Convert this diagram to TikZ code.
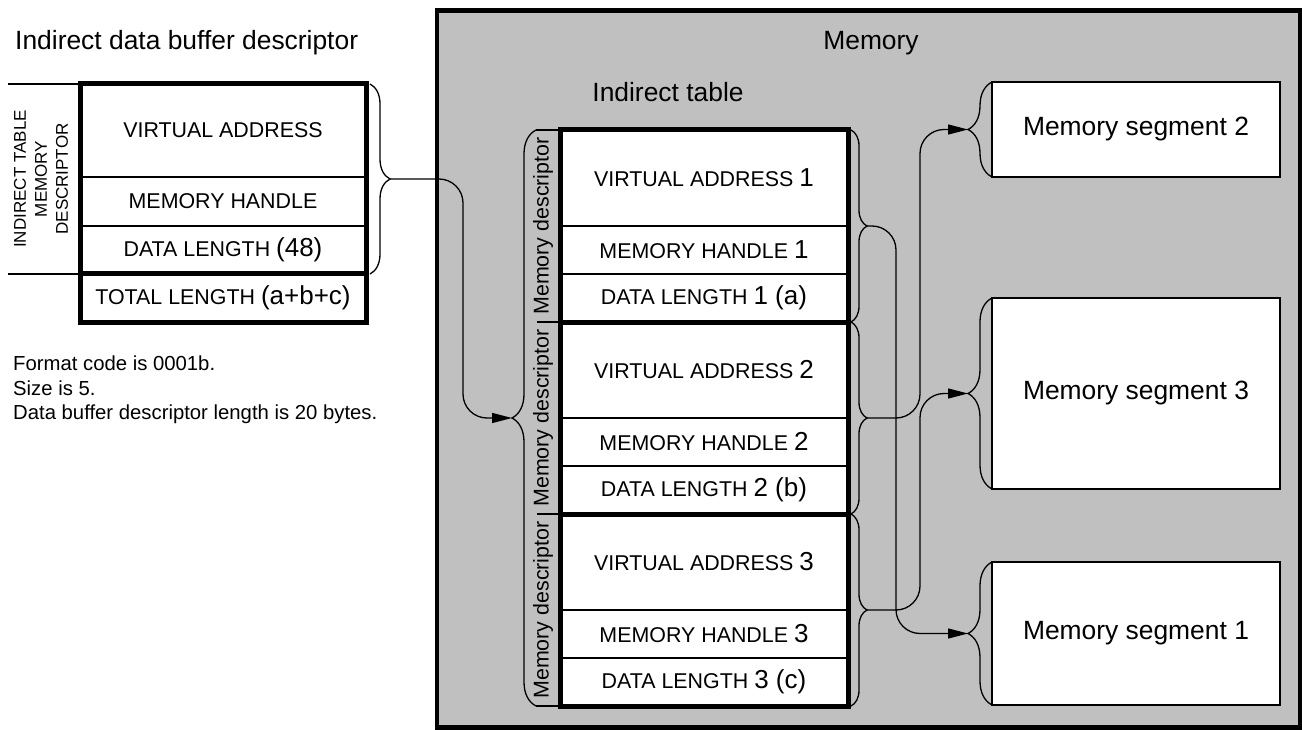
\documentclass[tikz,border=0pt]{standalone}
\usepackage{fontspec}
\setmainfont{Liberation Sans}
\usetikzlibrary{arrows.meta,positioning,calc,decorations.pathreplacing}

\definecolor{memgray}{RGB}{192,192,192}

\newcommand{\titlefont}{\fontsize{26.4}{31}\selectfont}
\newcommand{\capsfont}{\fontsize{21.4}{25}\selectfont}
\newcommand{\numfont}{\fontsize{26}{30}\selectfont}
\newcommand{\sidefont}{\fontsize{17}{21}\selectfont}
\newcommand{\notefont}{\fontsize{20.3}{24.5}\selectfont}

\begin{document}
\begin{tikzpicture}[x=1pt, y=-1pt,
  cell/.style={draw=black, line width=2pt, fill=white, inner sep=0pt, outer sep=0pt, font=\capsfont},
  lcell/.style={cell, minimum width=286pt, minimum height=#1},
  tcell/.style={cell, minimum width=288pt, minimum height=#1},
  segbox/.style={draw=black, line width=2.5pt, fill=white, minimum width=288pt, minimum height=#1,
    inner sep=0pt, outer sep=0pt, font=\titlefont},
  curly/.style={line width=1.3pt, decorate, decoration={brace, amplitude=#1}},
  link/.style={line width=1.3pt, rounded corners=24pt, -{Triangle[length=20pt,width=10pt]}},
  frame/.style={line width=5pt}
]

  \useasboundingbox (0,0) rectangle (1302,730);

  %% memory area
  \draw[line width=4.5pt, fill=memgray] (437,10.5) rectangle (1300,727.5);
  \node[font=\titlefont] (MemTitle) at (871,43) {Memory};
  \node[font=\titlefont] (TabTitle) at (668,92) {Indirect table};

  %% indirect data buffer descriptor
  \node[font=\titlefont, anchor=west, inner sep=0pt] (BufTitle) at (15,43) {Indirect data buffer descriptor};

  \coordinate (LD) at (80,84);

  \node[lcell=93pt, anchor=north west] (LVA) at (LD) {VIRTUAL ADDRESS};
  \node[lcell=49pt, below=0pt of LVA] (LMH) {MEMORY HANDLE};
  \node[lcell=48pt, below=0pt of LMH] (LDL) {DATA LENGTH {\numfont (48)}};
  \node[lcell=48pt, below=0pt of LDL] (LTL) {TOTAL LENGTH {\numfont (a+b+c)}};

  \draw[frame] (LVA.north west) rectangle (LTL.south east);
  \draw[frame] (LTL.north west) -- (LTL.north east);

  \draw[line width=2pt] (LVA.north west) -- ++(-72,0);
  \draw[line width=2pt] (LTL.north west) -- ++(-72,0);
  \node[font=\sidefont, rotate=90, align=center] (SideLbl) at (41,179) {INDIRECT TABLE\\MEMORY\\DESCRIPTOR};

  \draw[curly=20pt] ($(LVA.north east)+(4,0)$) -- ($(LDL.south east)+(4,0)$);
  \coordinate (LDtip) at ($(LVA.north east)!0.5!(LDL.south east)+(24,0)$);

  \node[font=\notefont, align=left, anchor=west, inner sep=0pt] (Notes) at (13,390)
    {Format code is 0001b.\\Size is 5.\\Data buffer descriptor length is 20 bytes.};

  %% indirect table
  \coordinate (TB) at (560,130);

  %% descriptor 1
  \node[tcell=96pt, anchor=north west] (VA1) at (TB) {VIRTUAL ADDRESS {\numfont 1}};
  \node[tcell=48pt, below=0pt of VA1] (MH1) {MEMORY HANDLE {\numfont 1}};
  \node[tcell=48pt, below=0pt of MH1] (DL1) {DATA LENGTH {\numfont 1 (a)}};

  %% descriptor 2
  \node[tcell=96pt, below=0pt of DL1] (VA2) {VIRTUAL ADDRESS {\numfont 2}};
  \node[tcell=48pt, below=0pt of VA2] (MH2) {MEMORY HANDLE {\numfont 2}};
  \node[tcell=48pt, below=0pt of MH2] (DL2) {DATA LENGTH {\numfont 2 (b)}};

  %% descriptor 3
  \node[tcell=96pt, below=0pt of DL2] (VA3) {VIRTUAL ADDRESS {\numfont 3}};
  \node[tcell=48pt, below=0pt of VA3] (MH3) {MEMORY HANDLE {\numfont 3}};
  \node[tcell=48pt, below=0pt of MH3] (DL3) {DATA LENGTH {\numfont 3 (c)}};

  \draw[frame] (VA1.north west) rectangle (DL3.south east);
  \draw[frame] (DL1.south west) -- (DL1.south east);
  \draw[frame] (DL2.south west) -- (DL2.south east);

  \node[font=\capsfont, rotate=90] (MD1) at ($(VA1.north west)!0.5!(DL1.south west)+(-17,0)$) {Memory descriptor};
  \node[font=\capsfont, rotate=90] (MD2) at ($(VA2.north west)!0.5!(DL2.south west)+(-17,0)$) {Memory descriptor};
  \node[font=\capsfont, rotate=90] (MD3) at ($(VA3.north west)!0.5!(DL3.south west)+(-17,0)$) {Memory descriptor};
  \draw[line width=1.5pt] (DL1.south west) -- ++(-23,0);
  \draw[line width=1.5pt] (DL2.south west) -- ++(-23,0);

  % brace round the whole table
  \draw[line width=1.3pt] (VA1.north west) -- ++(-24,0);
  \draw[line width=1.3pt] (DL3.south west) -- ++(-24,0);
  \draw[curly=24pt] ($(DL3.south west)+(-24,0)$) -- ($(VA1.north west)+(-24,0)$);
  \coordinate (TBtip) at ($(VA1.north west)!0.5!(DL3.south west)+(-48,0)$);

  % braces of the descriptors
  \draw[curly=16pt] ($(VA1.north east)+(3,0)$) -- ($(DL1.south east)+(3,0)$);
  \draw[curly=16pt] ($(VA2.north east)+(3,0)$) -- ($(DL2.south east)+(3,0)$);
  \draw[curly=16pt] ($(VA3.north east)+(3,0)$) -- ($(DL3.south east)+(3,0)$);
  \coordinate (D1tip) at ($(VA1.north east)!0.5!(DL1.south east)+(19,0)$);
  \coordinate (D2tip) at ($(VA2.north east)!0.5!(DL2.south east)+(19,0)$);
  \coordinate (D3tip) at ($(VA3.north east)!0.5!(DL3.south east)+(19,0)$);

  %% memory segments
  \node[segbox=95pt, anchor=north west] (Seg2) at (992,82) {Memory segment 2};
  \node[segbox=191pt, anchor=north west] (Seg3) at (992,298) {Memory segment 3};
  \node[segbox=143pt, anchor=north west] (Seg1) at (992,562) {Memory segment 1};

  \draw[curly=24pt] (Seg2.south west) -- (Seg2.north west);
  \draw[curly=24pt] (Seg3.south west) -- (Seg3.north west);
  \draw[curly=24pt] (Seg1.south west) -- (Seg1.north west);
  \coordinate (S2tip) at ($(Seg2.west)+(-24,0)$);
  \coordinate (S3tip) at ($(Seg3.west)+(-24,0)$);
  \coordinate (S1tip) at ($(Seg1.west)+(-24,0)$);

  %% links
  \coordinate (laneL) at (463,0);
  \coordinate (laneA) at (896,0);
  \coordinate (laneB) at (920,0);

  \draw[link] (LDtip) -| (laneL |- TBtip) -- (TBtip);
  \draw[link] (D1tip) -| (laneA |- S1tip) -- (S1tip);
  \draw[link] (D2tip) -| (laneB |- S2tip) -- (S2tip);
  \draw[link] (D3tip) -| (laneB |- S3tip) -- (S3tip);

\end{tikzpicture}
\end{document}
